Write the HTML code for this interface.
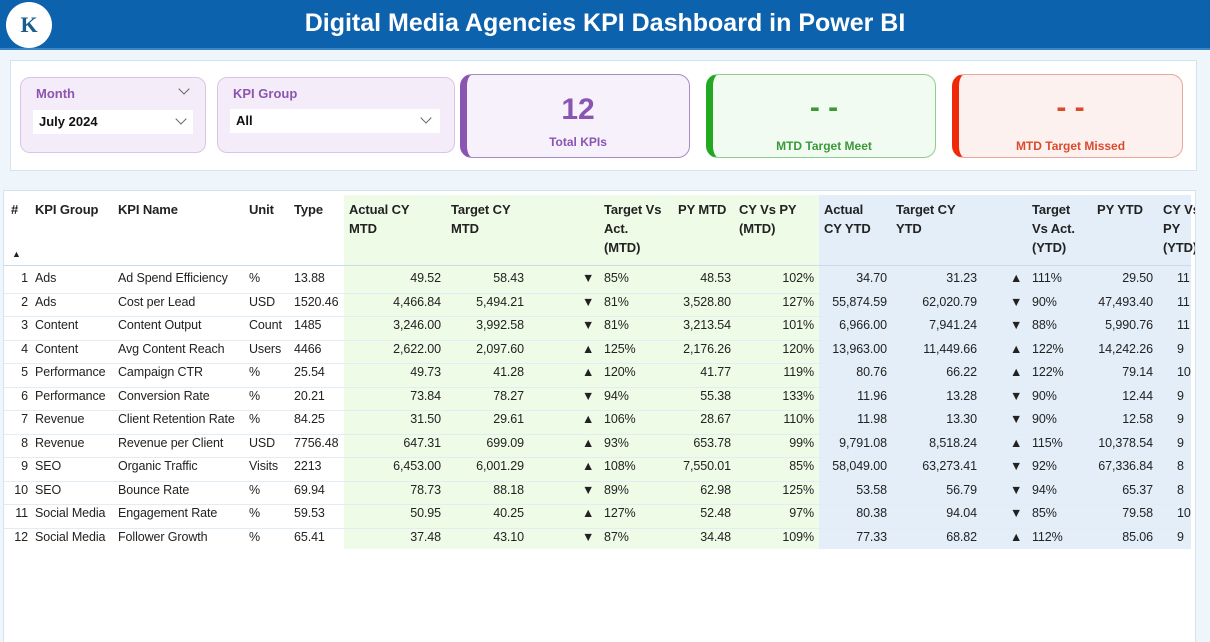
<!DOCTYPE html>
<html><head><meta charset="utf-8"><style>
*{box-sizing:border-box;margin:0;padding:0}
body{width:1210px;height:642px;overflow:hidden;background:#eef5fb;font-family:"Liberation Sans",sans-serif;position:relative}
.abs{position:absolute}
#hdr{left:0;top:0;width:1210px;height:50px;background:#0d62ad;color:#fff;font-weight:bold;font-size:25px;text-align:center;line-height:46px;border-bottom:2px solid #3a86c8}
#logo{left:6px;top:2px;width:46px;height:46px;border-radius:50%;background:#fff;color:#1a5c8c;font-weight:bold;font-size:22px;text-align:center;line-height:46px;font-family:"Liberation Serif",serif}
#top{left:10px;top:60px;width:1187px;height:111px;background:#fff;border:1px solid #d4e3f0}
.slicer{top:77px;height:76px;background:#f4ecf8;border:1px solid #d9c6e6;border-radius:10px}
.slicer .t{position:absolute;left:15px;top:8px;font-size:13px;font-weight:bold;color:#8c55b0}
.slicer .box{position:absolute;left:12px;top:32px;background:#fff;height:24px;font-size:13px;font-weight:bold;color:#111;padding:4px 6px}
.chev{position:absolute;width:8px;height:8px;border-right:1.3px solid #666;border-bottom:1.3px solid #666;transform:rotate(45deg)}
.card{top:74px;height:84px;border-radius:12px;text-align:center}
.card .v{position:absolute;left:0;right:0;top:18px;font-size:30px;font-weight:bold}
.card .l{position:absolute;left:0;right:0;top:60px;font-size:12px;font-weight:bold}
#tbl{left:3px;top:190px;width:1193px;height:452px;background:#fff;border:1px solid #d4e3f0;border-bottom:none;overflow:hidden}
.cell{position:absolute;font-size:12.5px;color:#222;white-space:nowrap;letter-spacing:-0.1px}
.h{font-weight:bold;line-height:19px;white-space:normal;font-size:13px}
</style></head><body>
<div id="hdr" class="abs">Digital Media Agencies KPI Dashboard in Power BI</div>
<div id="logo" class="abs">K</div>
<div id="top" class="abs"></div>
<div class="abs slicer" style="left:20px;width:186px">
 <div class="t">Month</div><span class="chev" style="left:159px;top:7px"></span>
 <div class="box" style="width:160px">July 2024<span class="chev" style="left:144px;top:5px"></span></div>
</div>
<div class="abs slicer" style="left:217px;width:238px">
 <div class="t">KPI Group</div>
 <div class="box" style="width:210px;top:31px">All<span class="chev" style="left:192px;top:5px"></span></div>
</div>
<div class="abs card" style="left:460px;width:230px;background:#f6f1fa;border:1px solid #a98bc4;border-left:7px solid #8a55b2">
 <div class="v" style="color:#8a55b2">12</div><div class="l" style="color:#8a55b2">Total KPIs</div></div>
<div class="abs card" style="left:706px;width:230px;background:#f1fbf1;border:1px solid #8ccf8c;border-left:7px solid #22a822">
 <div class="v" style="color:#3a9a3a;top:16px">- -</div><div class="l" style="color:#3a9a3a;top:64px">MTD Target Meet</div></div>
<div class="abs card" style="left:952px;width:231px;background:#fdf1ef;border:1px solid #e6a89c;border-left:7px solid #f02a08">
 <div class="v" style="color:#dc4a2c;top:16px">- -</div><div class="l" style="color:#dc4a2c;top:64px">MTD Target Missed</div></div>

<div id="tbl" class="abs"></div>
<script>
const groups=["Ads","Ads","Content","Content","Performance","Performance","Revenue","Revenue","SEO","SEO","Social Media","Social Media"];
const names=["Ad Spend Efficiency","Cost per Lead","Content Output","Avg Content Reach","Campaign CTR","Conversion Rate","Client Retention Rate","Revenue per Client","Organic Traffic","Bounce Rate","Engagement Rate","Follower Growth"];
const units=["%","USD","Count","Users","%","%","%","USD","Visits","%","%","%"];
const types=["13.88","1520.46","1485","4466","25.54","20.21","84.25","7756.48","2213","69.94","59.53","65.41"];
const actMTD=["49.52","4,466.84","3,246.00","2,622.00","49.73","73.84","31.50","647.31","6,453.00","78.73","50.95","37.48"];
const tgtMTD=["58.43","5,494.21","3,992.58","2,097.60","41.28","78.27","29.61","699.09","6,001.29","88.18","40.25","43.10"];
const arrMTD=["d","d","d","u","u","d","u","u","u","d","u","d"];
const tvaMTD=["85%","81%","81%","125%","120%","94%","106%","93%","108%","89%","127%","87%"];
const pyMTD=["48.53","3,528.80","3,213.54","2,176.26","41.77","55.38","28.67","653.78","7,550.01","62.98","52.48","34.48"];
const cyPyMTD=["102%","127%","101%","120%","119%","133%","110%","99%","85%","125%","97%","109%"];
const actYTD=["34.70","55,874.59","6,966.00","13,963.00","80.76","11.96","11.98","9,791.08","58,049.00","53.58","80.38","77.33"];
const tgtYTD=["31.23","62,020.79","7,941.24","11,449.66","66.22","13.28","13.30","8,518.24","63,273.41","56.79","94.04","68.82"];
const arrYTD=["u","d","d","u","u","d","d","u","d","d","d","u"];
const tvaYTD=["111%","90%","88%","122%","122%","90%","90%","115%","92%","94%","85%","112%"];
const pyYTD=["29.50","47,493.40","5,990.76","14,242.26","79.14","12.44","12.58","10,378.54","67,336.84","65.37","79.58","85.06"];
const cyPyYTD=["11","11","11","9","10","9","9","9","8","8","10","9"];
const T=document.getElementById('tbl');
function add(html,l,t,w,align,cls,name){const d=document.createElement('div');d.className='cell '+(cls||'');d.style.left=l+'px';d.style.top=t+'px';if(w)d.style.width=w+'px';if(align)d.style.textAlign=align;d.innerHTML=html;


T.appendChild(d);return d;}
const g=document.createElement('div');g.style.cssText='position:absolute;left:340px;top:4px;width:475px;height:354px;background:#eefbe6';


T.appendChild(g);
const b=document.createElement('div');b.style.cssText='position:absolute;left:815px;top:4px;width:372px;height:354px;background:#e3eef9';


T.appendChild(b);
const hdrs=[["#",7],["KPI Group",31],["KPI Name",114],["Unit",245],["Type",290],["Actual CY MTD",345,80],["Target CY MTD",447,80],["Target Vs Act. (MTD)",600,62],["PY MTD",674],["CY Vs PY (MTD)",735,75],["Actual CY YTD",820,60],["Target CY YTD",892,70],["Target Vs Act. (YTD)",1028,56],["PY YTD",1093],["CY Vs PY (YTD)",1159,50]];
hdrs.forEach(h=>add(h[0],h[1],9,h[2],'','h','header-'+h[0].toLowerCase().replace(/[^a-z0-9]+/g,'-')));
add('▲',8,58,0,'','', 'sort-indicator').style.fontSize='9px';
const line=(y,c)=>{const d=document.createElement('div');d.style.cssText=`position:absolute;left:0;width:1187px;top:${y}px;height:1px;background:${c}`;


T.appendChild(d);};
line(74,'#c9dcee');
const y0=80,dy=23.5;
for(let i=0;i<12;i++){const y=y0+i*dy;
 if(i<11)line(y+dy-2,'#e2ecf5');
 add(String(i+1),0,y,24,'right','','row-number');
 add(groups[i],31,y,0,'','','kpi-group');
 add(names[i],114,y,0,'','','kpi-name');
 add(units[i],245,y,0,'','','unit');
 add(types[i],290,y,0,'','','type');
 add(actMTD[i],340,y,97,'right','','actual-cy-mtd');
 add(tgtMTD[i],440,y,80,'right','','target-cy-mtd');
 add(arrMTD[i]=='u'?'▲':'▼',578,y,0,'','','mtd-status-arrow');
 add(tvaMTD[i],600,y,0,'','','target-vs-act-mtd');
 add(pyMTD[i],650,y,77,'right','','py-mtd');
 add(cyPyMTD[i],740,y,70,'right','','cy-vs-py-mtd');
 add(actYTD[i],815,y,68,'right','','actual-cy-ytd');
 add(tgtYTD[i],890,y,83,'right','','target-cy-ytd');
 add(arrYTD[i]=='u'?'▲':'▼',1006,y,0,'','','ytd-status-arrow');
 add(tvaYTD[i],1028,y,0,'','','target-vs-act-ytd');
 add(pyYTD[i],1070,y,79,'right','','py-ytd');
 const c=add(cyPyYTD[i],1173,y,14,'','','cy-vs-py-ytd');c.style.overflow='hidden';
}
</script>
</body></html>
